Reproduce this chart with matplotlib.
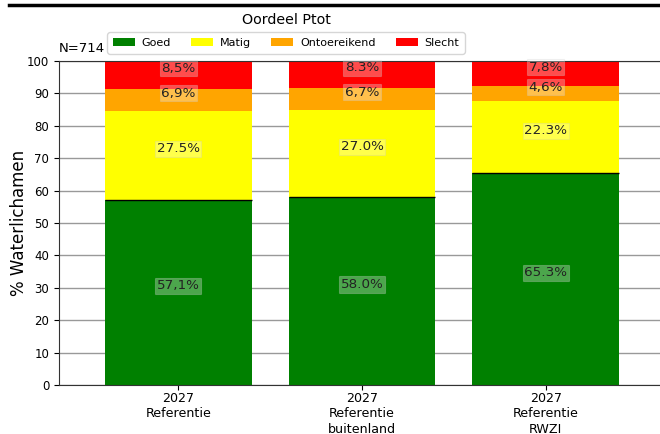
import numpy as np
import matplotlib
matplotlib.use("Agg")
import matplotlib.pyplot as plt
from matplotlib.lines import Line2D

# Oordeel Ptot per scenario (percentages of water bodies)
scenarios = ["2027\nReferentie", "2027\nReferentie\nbuitenland", "2027\nReferentie\nRWZI"]
classes = ["Goed", "Matig", "Ontoereikend", "Slecht"]
colors = ["green", "yellow", "orange", "red"]

goed = [57.1, 58.0, 65.3]
matig = [27.5, 27.0, 22.3]
ontoereikend = [6.9, 6.7, 4.6]
slecht = [8.5, 8.3, 7.8]

# label texts as they are printed on the bars
goed_lbl = ["57,1%", "58.0%", "65.3%"]
matig_lbl = ["27.5%", "27.0%", "22.3%"]
ontoereikend_lbl = ["6,9%", "6,7%", "4,6%"]
slecht_lbl = ["8,5%", "8.3%", "7,8%"]

n_total = 714

series = [goed, matig, ontoereikend, slecht]
labels = [goed_lbl, matig_lbl, ontoereikend_lbl, slecht_lbl]

W, H = 660, 434
fig = plt.figure(figsize=(W / 100, H / 100), dpi=100)
ax = fig.add_axes([59 / W, 1 - 385 / H, 606 / W, 324 / H])

x = np.arange(len(scenarios))
width = 0.8
bottom = np.zeros(len(scenarios))
for vals, lbls, name, col in zip(series, labels, classes, colors):
    vals = np.array(vals)
    ax.bar(x, vals, width, bottom=bottom, color=col, label=name, zorder=2)
    for xi, b, v, t in zip(x, bottom, vals, lbls):
        ax.text(xi, b + v / 2, t, ha="center", va="bottom", fontsize=9.7,
                color="#222222", zorder=4,
                bbox=dict(boxstyle="square,pad=0.12", facecolor="white",
                          edgecolor="#cccccc", alpha=0.3, linewidth=0.8))
    bottom = bottom + vals

# thin dark line on top of the "Goed" segment
ax.hlines(goed, x - width / 2, x + width / 2, color="black", linewidth=1, zorder=3)

ax.set_xlim(-0.65, 2.65)
ax.set_ylim(0, 100)
ax.set_yticks(np.arange(0, 101, 10))
ax.set_xticks(x)
ax.set_xticklabels(scenarios, fontsize=9.1, linespacing=1.25)
ax.tick_params(axis="x", pad=1.5)
ax.tick_params(axis="y", labelsize=8.5)
ax.yaxis.grid(True, color="#999999", linewidth=1, zorder=0)
ax.set_axisbelow(True)
ax.set_ylabel("% Waterlichamen", fontsize=12, labelpad=-1)
for s in ax.spines.values():
    s.set_color("#333333")

fig.text(286 / W, 1 - 19.5 / H, "Oordeel Ptot", fontsize=10.3,
         ha="center", va="center")
ax.text(0.0, 1.02, f"N={n_total}", transform=ax.transAxes, fontsize=9.5,
        ha="left", va="bottom")
handles, names = ax.get_legend_handles_labels()
fig.legend(handles, names, loc="center", bbox_to_anchor=(286 / W, 1 - 43 / H),
           ncol=4, fontsize=8, handlelength=2.0, handletextpad=0.6,
           columnspacing=1.8, borderpad=0.5, frameon=True)

fig.add_artist(Line2D([9 / W, 1.0], [1 - 5 / H, 1 - 5 / H],
                      color="black", linewidth=2.5))

fig.savefig("out.png", dpi=100)
